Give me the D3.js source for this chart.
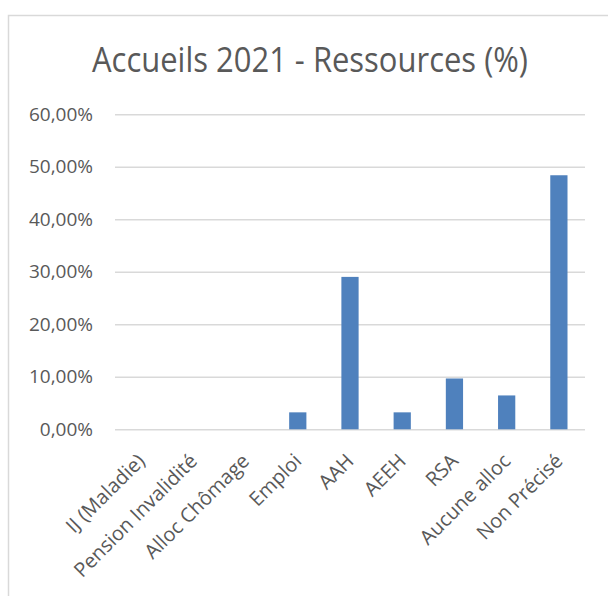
<!DOCTYPE html>
<html><head><meta charset="utf-8">
<script src="https://cdn.jsdelivr.net/npm/d3@7"></script>
<style>body{margin:0;background:#fff}svg{display:block}text{font-family:"Open Sans",sans-serif;fill:#595959}</style>
</head><body><svg id="c" width="608" height="596"></svg>
<script>
const title = "Accueils 2021 - Ressources (%)";
const categories = ["IJ (Maladie)","Pension Invalidité","Alloc Chômage","Emploi","AAH","AEEH","RSA","Aucune alloc","Non Précisé"];
const values = [0,0,0,3.23,29.03,3.23,9.68,6.45,48.39];
const yTicks = [0,10,20,30,40,50,60];

const svg = d3.select("#c");
svg.append("rect").attr("x",8.5).attr("y",15.5).attr("width",640).attr("height",640)
  .attr("fill","#fff").attr("stroke","#d9d9d9").attr("stroke-width",1.5);

const x = d3.scaleBand().domain(categories).range([115,585]).paddingInner(0.67).paddingOuter(0.335);
const y = d3.scaleLinear().domain([0,60]).range([429.3,114.3]);

svg.append("text").attr("x",92).attr("y",72).attr("text-anchor","start")
  .attr("textLength",436).attr("lengthAdjust","spacingAndGlyphs")
  .style("font-size","34px").text(title);

const gy = svg.append("g").attr("transform","translate(115,0)")
  .call(d3.axisLeft(y).tickValues(yTicks).tickSize(-470).tickPadding(22)
    .tickFormat(d => d3.format(".2f")(d).replace(".",",")+"%"));
gy.select(".domain").remove();
gy.selectAll("line").attr("stroke","#d9d9d9").attr("stroke-width",1.5);
gy.selectAll("text").style("font-size","19px").attr("fill","#595959");

svg.append("g").selectAll("rect").data(categories).join("rect")
  .attr("x",d=>x(d)).attr("width",x.bandwidth())
  .attr("y",(d,i)=>y(values[i])).attr("height",(d,i)=>y(0)-y(values[i]))
  .attr("fill","#4f81bd");

const gx = svg.append("g").attr("transform","translate(0,429.3)")
  .call(d3.axisBottom(x).tickSize(0).tickPadding(0));
gx.select(".domain").remove();
gx.selectAll("text").style("font-size","20px").attr("fill","#595959")
  .attr("text-anchor","end").attr("dy",0)
  .attr("transform","translate(5,33) rotate(-45)");
</script></body></html>
